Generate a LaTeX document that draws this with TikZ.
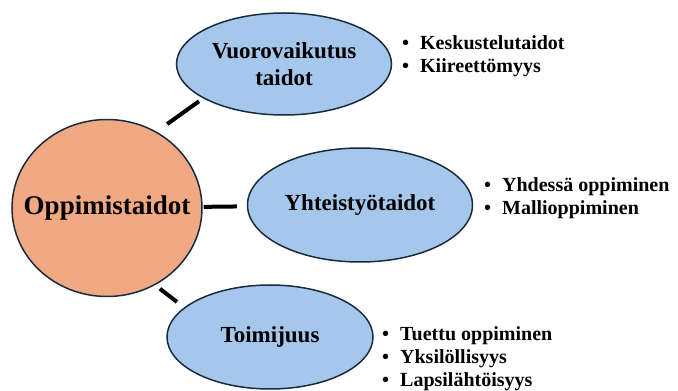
\documentclass[tikz,border=0pt]{standalone}
\usepackage{fontspec}
\setmainfont{Liberation Serif}
\usetikzlibrary{shapes.geometric}
\definecolor{hubfill}{RGB}{241,169,131}
\definecolor{skillfill}{RGB}{164,199,235}
\definecolor{rim}{RGB}{24,44,60}
\newcommand{\kohta}[1]{\makebox[18pt][l]{\textbullet}#1}
\tikzset{
	hub/.style={ellipse, draw=rim, line width=1.5pt, fill=hubfill, inner sep=0pt,
		minimum width=190pt, minimum height=177pt, font=\bfseries\fontsize{27}{30}\selectfont},
	skill/.style={ellipse, draw=rim, line width=1.5pt, fill=skillfill, inner sep=0pt,
		align=center, font=\bfseries\fontsize{23}{27}\selectfont},
	link/.style={line width=4pt, black},
	points/.style={anchor=west, align=left, inner sep=0pt, font=\bfseries\fontsize{20}{23}\selectfont}
}

\begin{document}
\begin{tikzpicture}[x=1pt, y=1pt]
			%%%%% START %%%%%
			\useasboundingbox (0, 0) rectangle (678, 391);
			
			\node[hub] (oppi) at (107, 183) {\makebox[0pt]{Oppimistaidot}};
			
			\node[skill, minimum width=215pt, minimum height=102pt] (vuoro) at (284, 327) {Vuorovaikutus\\taidot};
			\node[skill, minimum width=225pt, minimum height=114pt] (yhteis) at (360, 186) {Yhteistyötaidot};
			\node[skill, minimum width=206pt, minimum height=104pt] (toimi) at (270, 54) {Toimijuus};
			
			\draw[link, shorten <=13pt, shorten >=5pt] (oppi.57) -- (vuoro.203);
			\draw[link, shorten <=1pt, shorten >=10pt] (oppi) -- (yhteis);
			\draw[link, shorten <=6pt, shorten >=9pt] (oppi.302) -- (toimi.161);
			
			\node[points] (vuorolista) at (402, 334.5) {\kohta{Keskustelutaidot}\\\kohta{Kiireettömyys}};
			\node[points] (yhteislista) at (484, 193) {\kohta{Yhdessä oppiminen}\\\kohta{Mallioppiminen}};
			\node[points] (toimilista) at (382, 32.5) {\kohta{Tuettu oppiminen}\\\kohta{Yksilöllisyys}\\\kohta{Lapsilähtöisyys}};
			
			%%%%% END %%%%%
\end{tikzpicture}
\end{document}
